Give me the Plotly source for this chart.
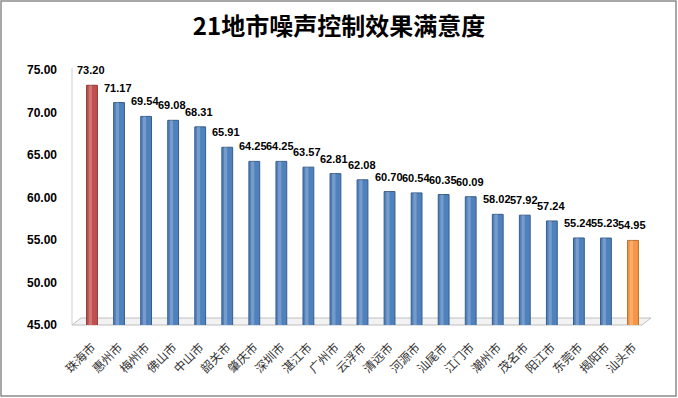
import plotly.graph_objects as go

cities = ["珠海市", "惠州市", "梅州市", "佛山市", "中山市", "韶关市", "肇庆市", "深圳市",
          "湛江市", "广州市", "云浮市", "清远市", "河源市", "汕尾市", "江门市", "潮州市",
          "茂名市", "阳江市", "东莞市", "揭阳市", "汕头市"]
scores = [73.20, 71.17, 69.54, 69.08, 68.31, 65.91, 64.25, 64.25, 63.57, 62.81, 62.08,
          60.70, 60.54, 60.35, 60.09, 58.02, 57.92, 57.24, 55.24, 55.23, 54.95]
y_ticks = [45, 50, 55, 60, 65, 70, 75]

n = len(cities)
colors = ["#C0504D" if i == 0 else ("#F79646" if i == n - 1 else "#4F81BD") for i in range(n)]
edges = ["#8C3836" if i == 0 else ("#B66D2F" if i == n - 1 else "#385D8A") for i in range(n)]

W, H = 678, 398
ml, mr, mt, mb = 75, 30, 70, 73
pw, ph = W - ml - mr, H - mt - mb

def px(x):
    return (x - ml) / pw

def py(y):
    return (H - mb - y) / ph

fig = go.Figure()
fig.add_trace(go.Bar(
    x=cities, y=scores, width=0.40,
    marker=dict(color=colors, line=dict(color=edges, width=1)),
    hoverinfo="x+y"))
fig.add_trace(go.Bar(
    x=cities, y=scores, width=0.12, offset=-0.12,
    marker=dict(color="rgba(255,255,255,0.22)", line=dict(width=0)),
    hoverinfo="skip"))

for c, v in zip(cities, scores):
    fig.add_annotation(x=c, y=v, text=f"{v:.2f}", showarrow=False, yshift=15, xshift=-1,
                       font=dict(family="Liberation Sans", size=11, color="#000000", weight="bold"))

shapes = [
    # outer frame
    dict(type="rect", xref="paper", yref="paper", x0=px(1), x1=px(W - 2), y0=py(1), y1=py(H - 2),
         line=dict(color="#8C8C8C", width=1.5), fillcolor="rgba(0,0,0,0)", layer="below"),
    # floor
    dict(type="path", xref="paper", yref="paper",
         path=f"M {px(72)},{py(325)} L {px(642)},{py(325)} L {px(651)},{py(318)} L {px(81)},{py(318)} Z",
         line=dict(color="#BFBFBF", width=1), fillcolor="#F2F2F2", layer="below"),
    # back wall left edge
    dict(type="line", xref="paper", yref="paper", x0=px(72), x1=px(72), y0=py(325), y1=py(68),
         line=dict(color="#D0D0D0", width=1), layer="below"),
]

fig.update_layout(
    width=W, height=H,
    margin=dict(l=ml, r=mr, t=mt, b=mb, autoexpand=False),
    paper_bgcolor="white", plot_bgcolor="white",
    barmode="overlay", showlegend=False, bargap=0.6,
    title=dict(text="21地市噪声控制效果满意度", x=0.5, xref="container", xanchor="center",
               y=1 - 27 / H, yanchor="middle", automargin=False,
               font=dict(family="Noto Sans CJK SC", size=24, color="#000000", weight="bold")),
    shapes=shapes,
)
fig.update_yaxes(range=[45, 75], tickvals=y_ticks, tickformat=".2f", showgrid=False, zeroline=False,
                 showline=False, ticks="", ticklabelstandoff=17, automargin=False,
                 tickfont=dict(family="Liberation Sans", size=12, color="#000000", weight="bold"))
fig.update_xaxes(tickangle=-45, showgrid=False, showline=False, ticks="", automargin=False,
                 ticklabelstandoff=12,
                 tickfont=dict(family="Noto Sans CJK SC", size=12, color="#333333"))

fig.write_html("out.html", config={"displayModeBar": False},
               post_script="document.body.style.margin='0';document.body.style.overflow='hidden';")
